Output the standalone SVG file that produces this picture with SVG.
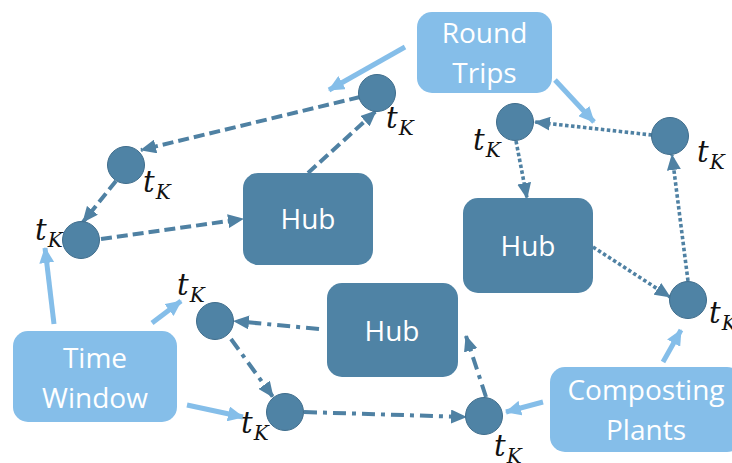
<svg xmlns="http://www.w3.org/2000/svg" width="732" height="463" viewBox="0 0 732 463">
  <defs>
    <marker id="ah-dark" viewBox="0 0 16 14" refX="15" refY="7" markerWidth="16" markerHeight="14" markerUnits="userSpaceOnUse" orient="auto">
      <path d="M0,0 L16,7 L0,14 z" fill="#4f81a3"/>
    </marker>
    <marker id="ah-light" viewBox="0 0 16 15" refX="15" refY="7.5" markerWidth="16" markerHeight="15" markerUnits="userSpaceOnUse" orient="auto">
      <path d="M0,0 L16,7.5 L0,15 z" fill="#85bee9"/>
    </marker>
  </defs>
  <style>
    .hub { fill: #4f83a5; }
    .tag { fill: #85bee9; }
    .stop { fill: #4f83a5; stroke: #3f6d8c; stroke-width: 1; }
    .boxtext { font-family: "Open Sans", "Liberation Sans", sans-serif; font-size: 28px; fill: #ffffff; text-anchor: middle; }
    .tk { font-family: "DejaVu Serif", "Liberation Serif", serif; font-style: italic; fill: #111111; }
    .tk .t { font-size: 29px; }
    .tk .k { font-size: 20px; }
    .link { fill: none; stroke: #4f81a3; stroke-width: 4; marker-end: url(#ah-dark); }
    .dash { stroke-dasharray: 11 5; }
    .dot { stroke-dasharray: 3.5 2.5; stroke-width: 3.6; }
    .dashdot { stroke-dasharray: 13 6 4 6; }
    .pointer { fill: none; stroke: #85bee9; stroke-width: 5; marker-end: url(#ah-light); }
  </style>

  <!-- connectors -->
  <g id="connectors">
    <!-- dashed tour -->
    <line class="link dash" x1="360" y1="97" x2="141" y2="150"/>
    <line class="link dash" x1="116" y1="181" x2="83" y2="222"/>
    <line class="link dash" x1="101" y1="239" x2="243" y2="219"/>
    <line class="link dash" x1="308" y1="173" x2="376" y2="111"/>
    <!-- dotted tour -->
    <line class="link dot" x1="652" y1="135" x2="535" y2="122"/>
    <line class="link dot" x1="516" y1="141" x2="527" y2="198"/>
    <line class="link dot" x1="593" y1="247" x2="670" y2="297"/>
    <line class="link dot" x1="688" y1="281" x2="672" y2="155"/>
    <!-- dash-dot tour -->
    <line class="link dashdot" x1="319" y1="329" x2="234" y2="321"/>
    <line class="link dashdot" x1="231" y1="339" x2="273" y2="397"/>
    <line class="link dashdot" x1="304" y1="412" x2="466" y2="417"/>
    <line class="link dashdot" x1="486" y1="397" x2="466" y2="336"/>
    <!-- callout pointers -->
    <line class="pointer" x1="405" y1="47" x2="329" y2="90"/>
    <line class="pointer" x1="555" y1="80" x2="594" y2="122"/>
    <line class="pointer" x1="54" y1="324" x2="45" y2="248"/>
    <line class="pointer" x1="152" y1="323" x2="181" y2="301"/>
    <line class="pointer" x1="187" y1="405" x2="243" y2="417"/>
    <line class="pointer" x1="543" y1="402" x2="506" y2="412"/>
    <line class="pointer" x1="663" y1="362" x2="681" y2="330"/>
  </g>

  <!-- hubs -->
  <g id="hub-left">
    <rect class="hub" x="243" y="173" width="130" height="92" rx="15"/>
    <text class="boxtext" x="308" y="229">Hub</text>
  </g>
  <g id="hub-right">
    <rect class="hub" x="463" y="198" width="130" height="95" rx="15"/>
    <text class="boxtext" x="528" y="256">Hub</text>
  </g>
  <g id="hub-bottom">
    <rect class="hub" x="327" y="283" width="131" height="94" rx="15"/>
    <text class="boxtext" x="392" y="341">Hub</text>
  </g>

  <!-- callout boxes -->
  <g id="round-trips">
    <rect class="tag" x="417" y="12" width="135" height="81" rx="15"/>
    <text class="boxtext" x="484.5" y="43">Round</text>
    <text class="boxtext" x="484.5" y="83">Trips</text>
  </g>
  <g id="time-window">
    <rect class="tag" x="13" y="331" width="164" height="91" rx="15"/>
    <text class="boxtext" x="95" y="368">Time</text>
    <text class="boxtext" x="95" y="408">Window</text>
  </g>
  <g id="composting-plants">
    <rect class="tag" x="550" y="367" width="192" height="85" rx="15"/>
    <text class="boxtext" x="646" y="400">Composting</text>
    <text class="boxtext" x="646" y="440">Plants</text>
  </g>

  <!-- stops with time labels -->
  <g id="stop-a">
    <circle class="stop" cx="377" cy="93" r="18.5"/>
    <text class="tk" x="386" y="128"><tspan class="t">t</tspan><tspan class="k" dx="1" dy="7">K</tspan></text>
  </g>
  <g id="stop-b">
    <circle class="stop" cx="126" cy="165" r="18.5"/>
    <text class="tk" x="143" y="192"><tspan class="t">t</tspan><tspan class="k" dx="1" dy="7">K</tspan></text>
  </g>
  <g id="stop-c">
    <circle class="stop" cx="81" cy="240" r="18.5"/>
    <text class="tk" x="35" y="240"><tspan class="t">t</tspan><tspan class="k" dx="1" dy="7">K</tspan></text>
  </g>
  <g id="stop-d">
    <circle class="stop" cx="515" cy="122" r="18.5"/>
    <text class="tk" x="473" y="150"><tspan class="t">t</tspan><tspan class="k" dx="1" dy="7">K</tspan></text>
  </g>
  <g id="stop-e">
    <circle class="stop" cx="670" cy="136" r="18.5"/>
    <text class="tk" x="697" y="162"><tspan class="t">t</tspan><tspan class="k" dx="1" dy="7">K</tspan></text>
  </g>
  <g id="stop-f">
    <circle class="stop" cx="688" cy="300" r="18.5"/>
    <text class="tk" x="709" y="323"><tspan class="t">t</tspan><tspan class="k" dx="1" dy="7">K</tspan></text>
  </g>
  <g id="stop-g">
    <circle class="stop" cx="215" cy="321" r="18.5"/>
    <text class="tk" x="177" y="295"><tspan class="t">t</tspan><tspan class="k" dx="1" dy="7">K</tspan></text>
  </g>
  <g id="stop-h">
    <circle class="stop" cx="285" cy="412" r="18.5"/>
    <text class="tk" x="241" y="433"><tspan class="t">t</tspan><tspan class="k" dx="1" dy="7">K</tspan></text>
  </g>
  <g id="stop-i">
    <circle class="stop" cx="484" cy="416" r="18.5"/>
    <text class="tk" x="494" y="456"><tspan class="t">t</tspan><tspan class="k" dx="1" dy="7">K</tspan></text>
  </g>
</svg>
